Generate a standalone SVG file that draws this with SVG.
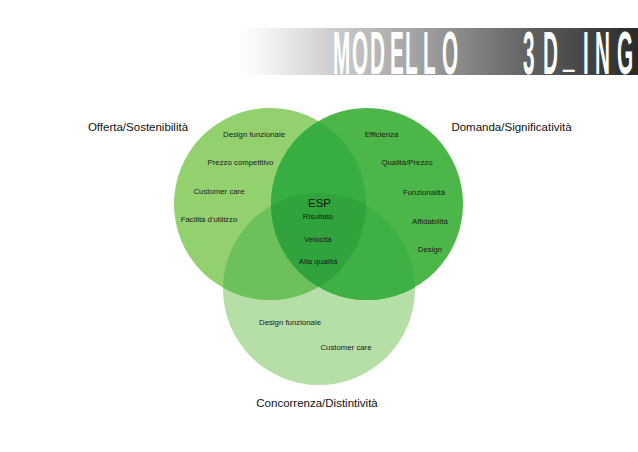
<svg xmlns="http://www.w3.org/2000/svg" width="638" height="452" viewBox="0 0 638 452">
<defs>
  <linearGradient id="banner" x1="0" y1="0" x2="1" y2="0">
    <stop offset="0" stop-color="#ffffff"/>
    <stop offset="0.08" stop-color="#f2f2f2"/>
    <stop offset="0.25" stop-color="#cacaca"/>
    <stop offset="0.5" stop-color="#979797"/>
    <stop offset="0.75" stop-color="#5c5c5c"/>
    <stop offset="1" stop-color="#2a2a2a"/>
  </linearGradient>
  <clipPath id="clipL"><circle cx="270" cy="204" r="96"/></clipPath>
  <clipPath id="clipR"><circle cx="367" cy="204" r="96"/></clipPath>
  <clipPath id="clipB"><circle cx="319" cy="289" r="96"/></clipPath>
  <style>
    .s { font-family: "Liberation Sans", Arial, sans-serif; font-size: 7.8px; fill: #1a1a1a; text-anchor: middle; }
    .l { font-family: "Liberation Sans", Arial, sans-serif; font-size: 11.5px; fill: #111; text-anchor: middle; }
    .title { font-family: "Liberation Sans", Arial, sans-serif; font-weight: bold; font-size: 61px; fill: #ffffff; }
  </style>
</defs>
<rect x="0" y="0" width="638" height="452" fill="#ffffff"/>
<g id="title">
  <rect x="238" y="28" width="400" height="47" fill="url(#banner)"/>
  <g transform="scale(0.34,1)">
    <text class="title" x="979.4 1035.3 1088.2 1147.1 1191.2 1244.1 1300 1382 1538.2 1597.1 1655.9 1714.7 1750 1814.7" y="74 74 74 74 74 74 74 74 74 74 65 74 74 74">MODELLO 3D_ING</text>
  </g>
</g>
<g id="venn">
  <g id="concorrenza"><circle cx="319" cy="289" r="96" fill="#b6dea7"/></g>
  <g id="offerta"><circle cx="270" cy="204" r="96" fill="#93d16f"/></g>
  <g id="domanda"><circle cx="367" cy="204" r="96" fill="#4cb748"/></g>
  <g id="overlap-LB" clip-path="url(#clipB)"><circle cx="270" cy="204" r="96" fill="#6cc15b"/></g>
  <g id="overlap-RB" clip-path="url(#clipB)"><circle cx="367" cy="204" r="96" fill="#3fb144"/></g>
  <g id="overlap-LR" clip-path="url(#clipL)"><circle cx="367" cy="204" r="96" fill="#37ad42"/></g>
  <g id="overlap-center" clip-path="url(#clipL)"><g clip-path="url(#clipR)"><circle cx="319" cy="289" r="96" fill="#30a33c"/></g></g>
</g>
<g id="labels">
  <text class="l" x="138" y="131">Offerta/Sostenibilità</text>
  <text class="l" x="511.5" y="131">Domanda/Significatività</text>
  <text class="l" x="317" y="407">Concorrenza/Distintività</text>
</g>
<g id="offerta-text">
  <text class="s" x="254" y="137">Design funzionale</text>
  <text class="s" x="240.5" y="165">Prezzo competitivo</text>
  <text class="s" x="219" y="194">Customer care</text>
  <text class="s" x="209" y="222">Facilità d'utilizzo</text>
</g>
<g id="domanda-text">
  <text class="s" x="381.5" y="137">Efficienza</text>
  <text class="s" x="407" y="165">Qualità/Prezzo</text>
  <text class="s" x="424" y="195">Funzionalità</text>
  <text class="s" x="430" y="224">Affidabilità</text>
  <text class="s" x="430" y="252">Design</text>
</g>
<g id="esp">
  <text class="l" x="319.5" y="207">ESP</text>
  <text class="s" x="318" y="219">Risultato</text>
  <text class="s" x="318" y="242">Velocità</text>
  <text class="s" x="318" y="264">Alta qualità</text>
</g>
<g id="concorrenza-text">
  <text class="s" x="290" y="325">Design funzionale</text>
  <text class="s" x="346" y="350">Customer care</text>
</g>
</svg>
